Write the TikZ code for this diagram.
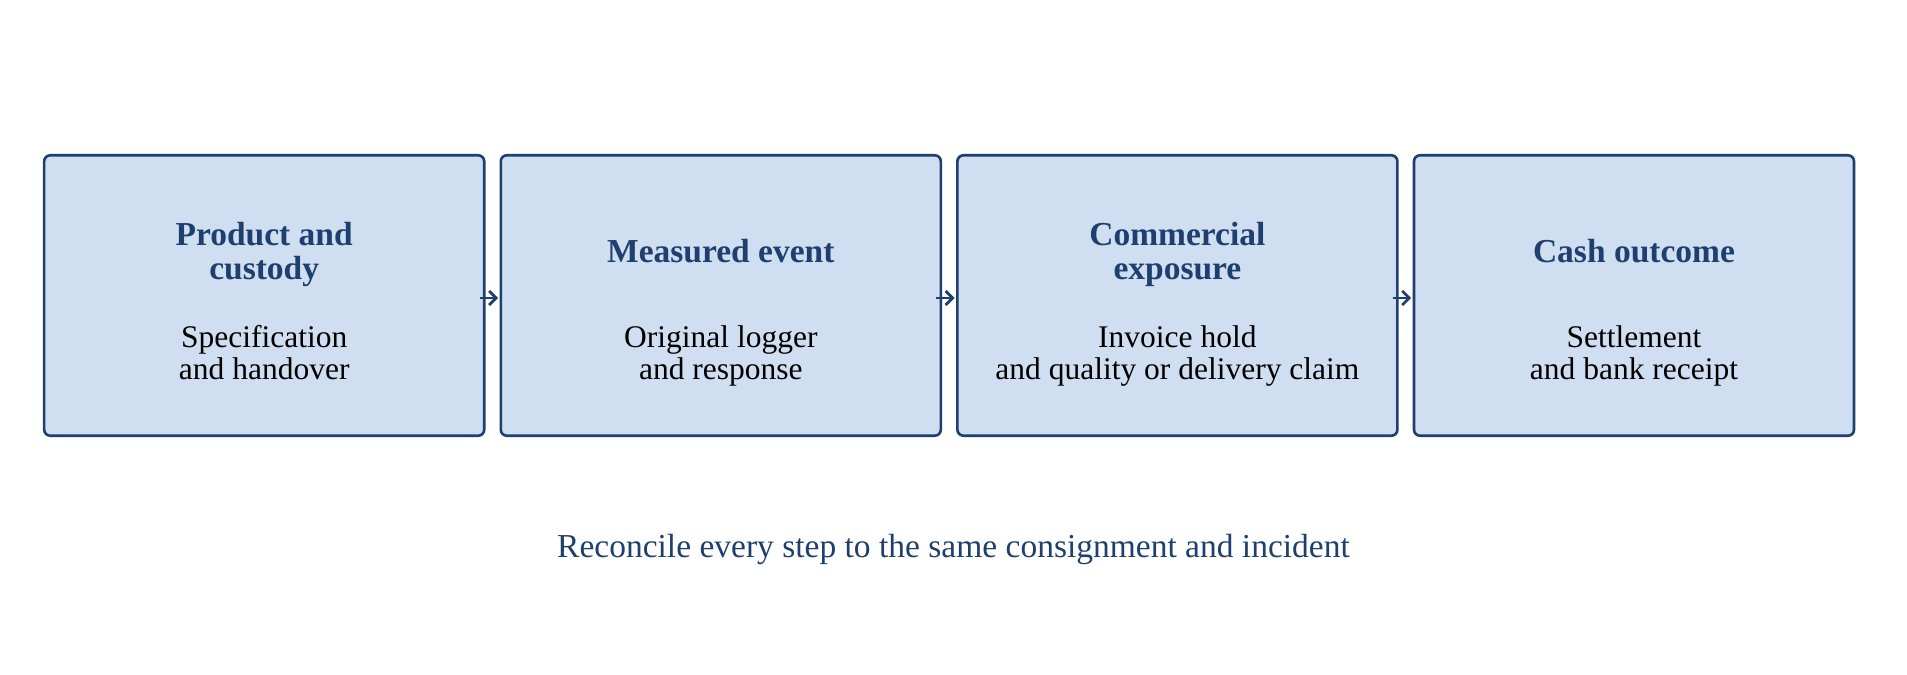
\documentclass[tikz,border=0pt]{standalone}
\usepackage{fontspec}
\setmainfont{Liberation Serif}
\usetikzlibrary{arrows.meta}
\definecolor{dkblue}{HTML}{1F3F6E}
\definecolor{boxfill}{HTML}{CFDEF0}
\tikzset{
  stepbox/.style={draw=dkblue, fill=boxfill, line width=2.6bp, rounded corners=6bp,
    minimum width=440bp, minimum height=280.4bp, inner sep=0pt},
  ttl/.style={anchor=base, align=center, text=dkblue, inner sep=0pt,
    font=\fontsize{33.5bp}{34bp}\selectfont\bfseries},
  bdy/.style={anchor=base, align=center, text=black, inner sep=0pt,
    font=\fontsize{31.5bp}{32bp}\selectfont},
  arr/.style={draw=dkblue, line width=2.8bp, -{Straight Barb[length=7bp,width=14bp,line width=2.8bp]}},
}
\begin{document}
\begin{tikzpicture}[x=1bp,y=-1bp]
\useasboundingbox[fill=white] (0,0) rectangle (1907,675);
\node[stepbox] (b1) at (264.2,295.5) {};
\node[stepbox] (b2) at (720.8,295.5) {};
\node[stepbox] (b3) at (1177.4,295.5) {};
\node[stepbox] (b4) at (1634,295.5) {};
\node[ttl] (t1) at (264.2,279) {Product and\\custody};
\node[ttl] (t2) at (720.8,262.5) {Measured event};
\node[ttl] (t3) at (1177.4,279) {Commercial\\exposure};
\node[ttl] (t4) at (1634,262.5) {Cash outcome};
\node[bdy] (d1) at (264.2,379) {Specification\\and handover};
\node[bdy] (d2) at (720.8,379) {Original logger\\and response};
\node[bdy] (d3) at (1177.4,379) {Invoice hold\\and quality or delivery claim};
\node[bdy] (d4) at (1634,379) {Settlement\\and bank receipt};
\draw[arr] ([xshift=-6bp,yshift=-2.5bp]b1.east) -- ([xshift=-1.5bp,yshift=-2.5bp]b2.west);
\draw[arr] ([xshift=-6bp,yshift=-2.5bp]b2.east) -- ([xshift=-1.5bp,yshift=-2.5bp]b3.west);
\draw[arr] ([xshift=-6bp,yshift=-2.5bp]b3.east) -- ([xshift=-1.5bp,yshift=-2.5bp]b4.west);
\node[anchor=base, text=dkblue, inner sep=0pt, font=\fontsize{33.5bp}{34.5bp}\selectfont] (note) at (953.5,557) {Reconcile every step to the same consignment and incident};
\end{tikzpicture}
\end{document}
